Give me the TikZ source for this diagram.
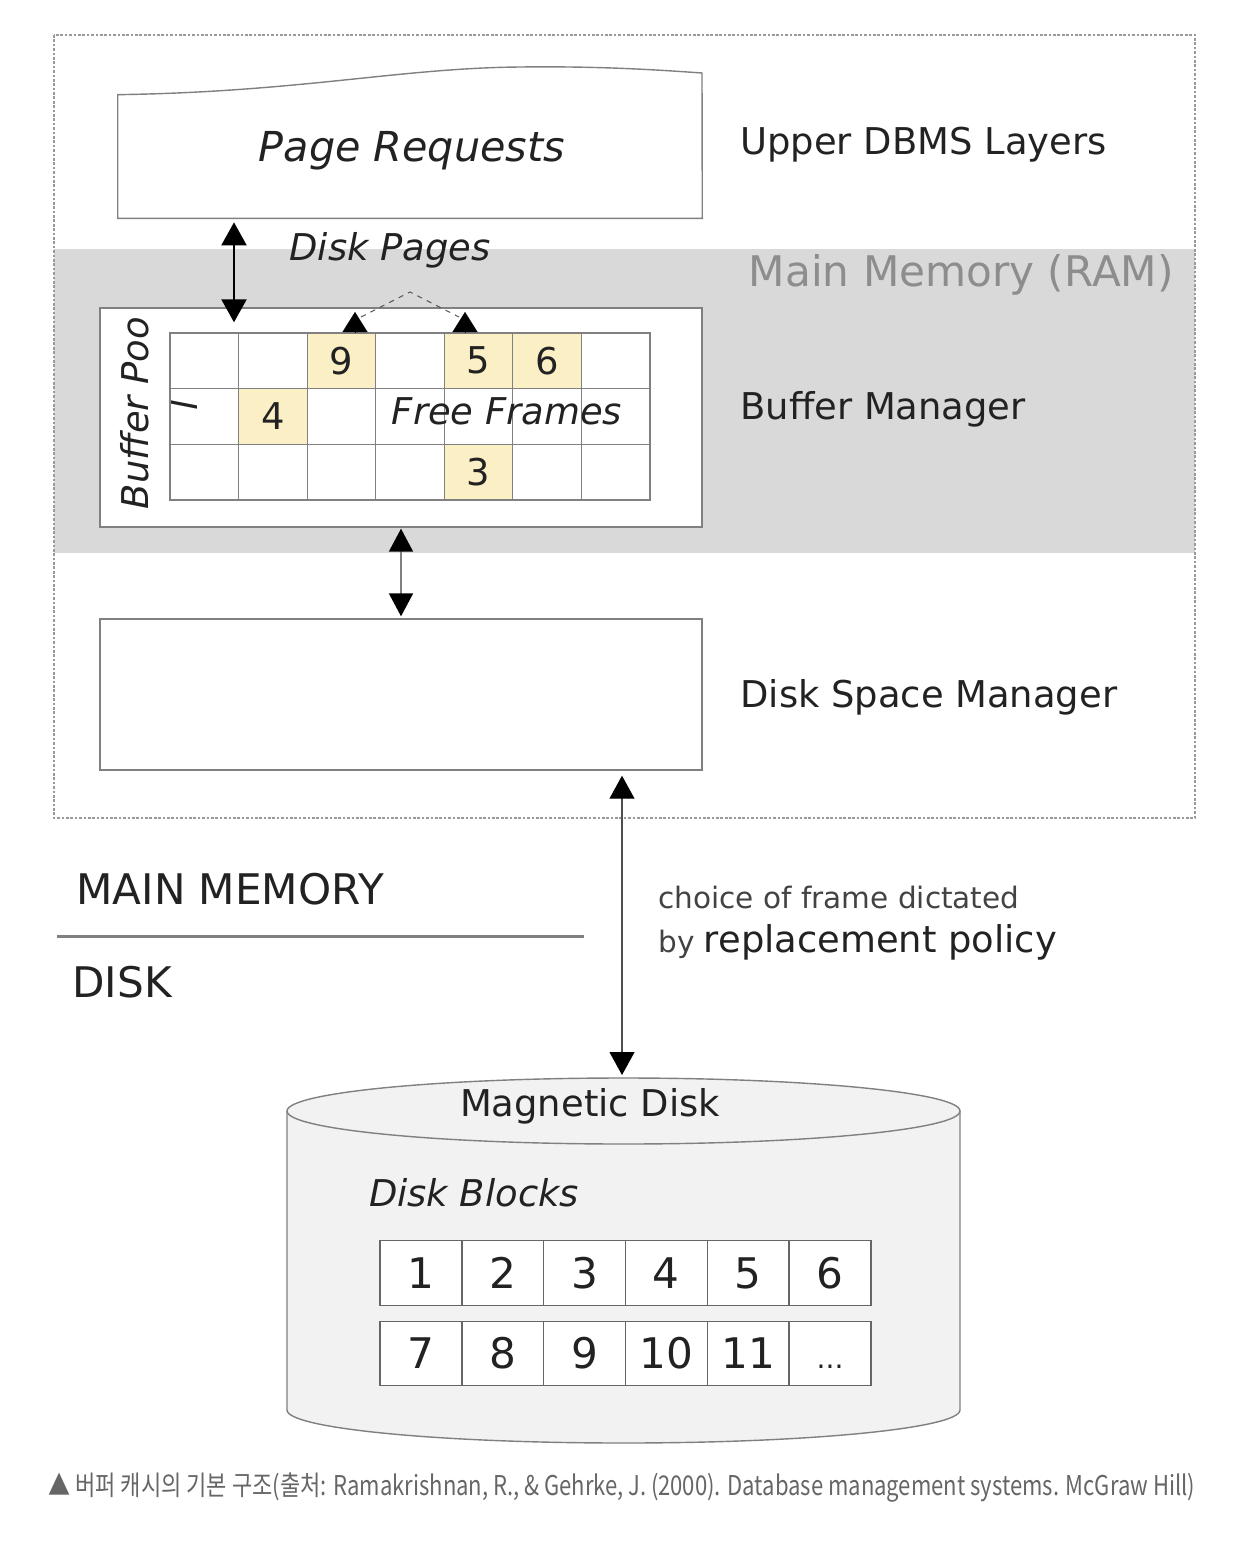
\documentclass[tikz,border=0pt]{standalone}
\usepackage{fontspec}
\setmainfont{DejaVu Sans}
\newfontfamily\cjk{Noto Sans CJK KR}
\usepackage{graphicx}
\usepackage{tikz}
\usetikzlibrary{arrows.meta,positioning}
\definecolor{ink}{HTML}{222222}
\definecolor{ram}{HTML}{D9D9D9}
\definecolor{edge}{HTML}{808080}
\definecolor{frame}{HTML}{FBEFC6}
\definecolor{platter}{HTML}{F2F2F2}
\definecolor{caption}{HTML}{666666}
\newcommand{\moredots}{\vphantom{1}{\fontsize{16}{20}\selectfont...}}

\begin{document}
\begin{tikzpicture}[x=0.02cm,y=-0.02cm,
    every node/.style={text=ink},
    box/.style={draw=edge,line width=0.8pt,fill=white,inner sep=0pt},
    lbl/.style={font=\fontsize{21}{24}\selectfont,anchor=west,inner sep=0pt},
    cell/.style={draw=edge,line width=0.7pt,minimum width=1.3714cm,minimum height=1.1133cm,
      inner sep=0pt,font=\fontsize{21}{24}\selectfont},
    block/.style={draw=edge!80!black,line width=0.8pt,minimum width=1.6367cm,minimum height=1.29cm,
      inner sep=0pt,fill=white,font=\fontsize{24}{26}\selectfont},
    bigarrow/.style={line width=1.2pt,{Triangle[length=4.6mm,width=5mm]}-{Triangle[length=4.6mm,width=5mm]}},
    midarrow/.style={draw=edge,line width=1.1pt,
      {Triangle[length=4.6mm,width=4.8mm,color=black]}-{Triangle[length=4.6mm,width=4.8mm,color=black]}},
    thinarrow/.style={draw=ink!80,line width=0.6pt,
      {Triangle[length=4.6mm,width=5mm,color=black]}-{Triangle[length=4.6mm,width=5mm,color=black]}},
    uptip/.style={line width=0.1pt,-{Triangle[length=4mm,width=5mm]}}]
  \useasboundingbox (0,0) rectangle (1248,1556);

  % Main memory band and outer frame
  \fill[ram] (54,249) rectangle (1195,553);
  \draw[edge!80,line width=0.6pt,dash pattern=on 1.5pt off 1pt] (54,35) rectangle (1195,818);

  % Page requests (torn top edge)
  \node[minimum width=11.68cm,minimum height=2.46cm,inner sep=0pt] (req) at (410,156.5) {};
  \draw[edge,line width=0.8pt,fill=white] (req.south west) -- (req.south east) -- (702,73)
    .. controls (660,70) and (600,66) .. (520,67)
    .. controls (400,68) and (300,92) .. (req.north west) -- cycle;
  \node[font=\itshape\fontsize{23.5}{26}\selectfont] at (412,151) {Page Requests};
  \node[lbl] (upper) at (740,145) {Upper DBMS Layers};

  % Buffer pool
  \node[box,minimum width=12.04cm,minimum height=4.38cm] (pool) at (401,417.5) {};
  \node[rotate=90,font=\itshape\fontsize{21}{24}\selectfont,inner sep=0pt] (pname) at (135,413) {Buffer Poo};
  \node[rotate=90,font=\itshape\fontsize{21}{24}\selectfont,inner sep=0pt] (pname2) at (183,405) {l};
  \foreach \r in {0,1,2} {
    \foreach \c in {0,...,6} {
      \node[cell] (c\r\c) at (204.3+\c*68.57,360.8+\r*55.67) {};
    }
  }
  \foreach \r/\c/\n in {0/2/9,0/4/5,0/5/6,1/1/4,2/4/3}
    \node[cell,fill=frame] at (c\r\c) {\n};
  \node[font=\itshape\fontsize{21}{24}\selectfont,inner sep=0pt] (free) at (507,411) {Free Frames};

  % Disk pages into free frames
  \coordinate (apex) at (410,292);
  \coordinate (t1) at (355,312);
  \coordinate (t2) at (465,312);
  \draw[edge!70!black,dashed,line width=0.6pt] ([xshift=0.12cm,yshift=-0.1cm]t1) -- (apex) -- ([xshift=-0.12cm,yshift=-0.1cm]t2);
  \draw[uptip] (t1 |- c02.north) -- (t1);
  \draw[uptip] (t2 |- c04.north) -- (t2);
  \node[font=\itshape\fontsize{21}{24}\selectfont] (dpages) at (390,250) {Disk Pages};

  \node[font=\fontsize{24}{26}\selectfont,text=edge!90,anchor=east,inner sep=0pt] (mm) at (1174,275) {Main Memory (RAM)};
  \node[lbl] (bm) at (740,409) {Buffer Manager};

  % Disk space manager
  \node[box,minimum width=12.04cm,minimum height=3.02cm] (dsm) at (401,694.5) {};
  \node[lbl] (dsmlbl) at (740,697) {Disk Space Manager};

  % Connectors
  \coordinate (ax1) at (234,0);
  \draw[bigarrow] ([yshift=-0.08cm]ax1 |- req.south) -- ([yshift=-0.3cm]ax1 |- pool.north);
  \draw[midarrow] ([yshift=-0.02cm]pool.south) -- ([yshift=0.04cm]dsm.north);

  % Memory / disk divide
  \node[font=\fontsize{24}{26}\selectfont,anchor=west,inner sep=0pt] (mmem) at (76,889) {MAIN MEMORY};
  \draw[edge,line width=1.7pt] (57,936) -- (584,936);
  \node[font=\fontsize{24}{26}\selectfont,anchor=west,inner sep=0pt] (dsk) at (72,982) {DISK};
  \node[font=\fontsize{16.8}{20}\selectfont,text=ink!85,anchor=west,inner sep=0pt] (policy1) at (658,897) {choice of frame dictated};
  \node[anchor=west,inner sep=0pt] (policy2) at (658,942)
    {\fontsize{16.8}{20}\selectfont\color{ink!85}by \fontsize{21}{24}\selectfont\color{ink}replacement policy};

  % Magnetic disk cylinder
  \coordinate (disk) at (623.5,1111);
  \coordinate (disktop) at (623.5,1078);
  \filldraw[fill=platter,draw=edge,line width=0.8pt] (287,1111) -- (287,1410)
    arc[start angle=180,end angle=0,x radius=336.5,y radius=33] -- (960,1111);
  \filldraw[fill=platter,draw=edge,line width=0.8pt] (disk) ellipse (336.5 and 33);
  \node[font=\fontsize{21}{24}\selectfont] (mdisk) at (590,1106) {Magnetic Disk};
  \node[font=\itshape\fontsize{21}{24}\selectfont] (dblocks) at (474,1193) {Disk Blocks};
  \foreach \n [count=\i from 0] in {1,...,6}
    \node[block] (b\n) at (420.9+\i*81.83,1273) {\n};
  \foreach \n [count=\i from 0] in {7,8,9,10,11,\moredots}
    \node[block] (bb\i) at (420.9+\i*81.83,1353.5) {\n};

  \coordinate (ax3) at (622,0);
  \draw[thinarrow] ([yshift=-0.1cm]ax3 |- dsm.south) -- ([yshift=0.06cm]ax3 |- disktop);

  % Caption
  \node[anchor=west,inner sep=0pt,text=caption] (cap) at (48,1488)
    {\resizebox{22.94cm}{\height}{\cjk\fontsize{15.5}{17}\selectfont ▲ 버퍼 캐시의 기본 구조(출처: Ramakrishnan, R., \& Gehrke, J. (2000). Database management systems. McGraw Hill)}};
\end{tikzpicture}
\end{document}
